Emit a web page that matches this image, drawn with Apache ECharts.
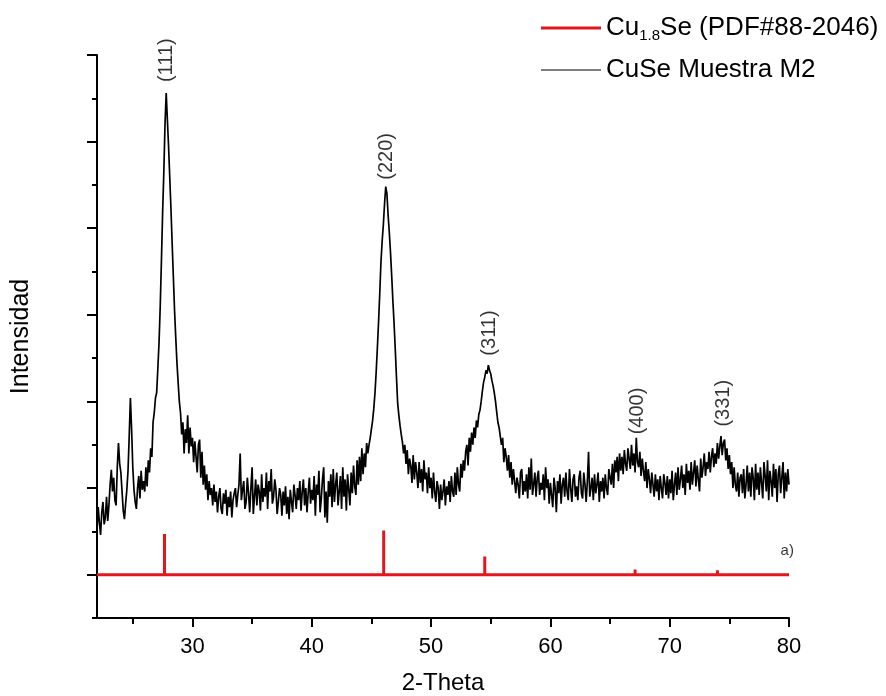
<!DOCTYPE html>
<html><head><meta charset="utf-8">
<script src="https://cdn.jsdelivr.net/npm/echarts@6/dist/echarts.min.js"></script>
<style>html,body{margin:0;padding:0;background:#fff}#c{width:886px;height:696px}</style>
</head><body><div id="c"></div>
<script>
// sampling grid of the diffractogram (2-theta, degrees)
const thetaStart = 22.0;
const thetaStep = 0.1;
// measured intensity (arbitrary units), CuSe Muestra M2 — one row per 2 degrees
const intensity = [
  52, 78, 60, 46, 72, 84, 58, 66, 90, 62,  80,104,121, 96,112, 86, 80,124,152,128,  // 22
 118, 96, 74, 64, 82, 98,120,160,204,168, 124, 98, 84, 76,100,114, 88,120, 98,108,  // 24
  96,124,102,132,118,146,136,176,187,204, 210,238,268,310,362,418,464,520,556,525,  // 26
 494,458,422,382,344,305,274,245,222,200, 187,162,176,140,168,152,184,140,170,148,  // 28
 158,130,154,136,118,150,156,112,142,104, 126, 98,116, 86,108, 92,100, 80,104, 84,  // 30
  96, 72, 90,100, 76, 70, 94, 82, 98, 68,  90, 78, 96, 66, 86, 94,100, 78, 92,104,  // 32
 140, 86, 98,108, 76, 84,112, 94, 72,100, 124, 70, 90,110, 80,104, 96, 74,116, 84,  // 34
 100, 90,118, 76,108, 96,122, 82, 90,110,  98, 70, 84,100, 92, 68, 96, 80,102, 70,  // 36
  90, 64, 98, 84, 72,104, 92, 76,100, 86, 108, 74, 96,110, 80,100, 72, 94,112, 82,  // 38
  98, 86,114, 68,104, 92,120, 72, 88,110, 124, 66, 96, 60,108, 90,116, 78,122, 84,  // 40
 104,118, 80, 96,114, 76,124, 90,110, 74, 116, 98, 80,118, 94,126,102, 92,132,104,  // 42
 136,108,146,116,140,124,152,140,150,158, 168,178,192,210,234,262,292,325,361,385,  // 44
 404,428,448,440,415,395,372,345,316,290, 260,228,198,184,172,162,153,140,150,128,  // 46
 144,116,134,126,106,138,110,130,118,100, 130,106,122, 96,132,110,118, 94,124,100,  // 48
 112, 88,118, 96, 84,108,100, 76,104, 86,  96,110, 80,102, 92,108, 84,114, 96, 90,  // 50
 118, 92,124,104, 96,128,112,132,120,142, 150,126,158,142,164,150,170,158,178,170,  // 52
 185,190,200,212,222,228,236,232,242,236, 232,224,218,210,200,188,176,170,160,150,  // 54
 158,130,146,136,120,138,112,130,104,122, 120, 94,112,104, 88,118,122, 92,108, 96,  // 56
 116, 88,124, 98,134, 92,104,118, 90,112, 120, 92,106, 98,116, 86,124,100,110, 82,  // 58
 106, 92, 78,112,100, 72,108, 94,116, 82, 104,112, 90,118, 96, 86,122,100, 84,110,  // 60
 116, 90,102, 86,112,120, 94, 88,118,104,  84,108,142, 90,100,112, 86,116, 94,104,  // 62
 118, 84,108, 96,112, 88,116,100, 92,122, 112,104,128,100,132,118,136,108,140,120,  // 64
 136,116,144,128,120,146,134,122,150,126, 140,118,158,130,124,142,114,134,120,108,  // 66
 130,100,122,110, 94,118,104, 90,116, 96, 110, 86,114,100, 88,116,106, 92,114, 88,  // 68
 110, 94,120, 86,104,118, 92,124, 98,110, 126,100,116, 92,128,106,120, 98,130,104,  // 70
 118,132,102,126,110, 96,134,112,124,140, 114,130,122,142,118,136,146,124,140,128,  // 72
 152,134,148,160,138,152,156,132,146,122, 138,116,130,100,124,104, 96,118, 90,112,  // 74
 116, 94,122, 88,104,126, 96,118, 90,124, 112, 86,128, 98,118, 92,124,106, 88,130,  // 76
 114, 96,132, 86,120,108, 90,128,100,122,  84,116,126, 94,112,130, 88,118, 96,122,  // 78
 104                                                                                 // 80
];
// reference pattern Cu1.8Se (PDF#88-2046)
const refPos = [27.66, 46.03, 54.5, 67.1, 74.0];
const refHeight = [47, 51, 21, 6, 5];
// Miller index annotations
const peakNames = ['(111)', '(220)', '(311)', '(400)', '(331)'];
const peakPos = [27.82, 46.28, 54.92, 67.34, 74.55];
const peakLabelY = [594, 483, 279, 189, 198];
// axes
const xMin = 22, xMax = 80;
const yMin = -50, yMax = 600;
const xMajorTicks = [30, 40, 50, 60, 70, 80];
const xMinorTicks = [25, 35, 45, 55, 65, 75];
const yMajorTicks = [0, 100, 200, 300, 400, 500, 600];
const yMinorTicks = [-50, 50, 150, 250, 350, 450, 550];

const sampleData = intensity.map((v, i) => [+(thetaStart + i * thetaStep).toFixed(1), v]);
const refData = [[xMin, 0]];
refPos.forEach((p, i) => { refData.push([p, 0], [p, refHeight[i]], [p, 0]); });
refData.push([xMax, 0]);
const labelData = peakPos.map((p, i) => ({ value: [p, peakLabelY[i]], name: peakNames[i] }));

const RED = '#e3161e';
const FONT = "'Liberation Sans', Arial, sans-serif";
const NARROW = "'Liberation Sans Narrow', 'Liberation Sans', Arial, sans-serif";

const chart = echarts.init(document.getElementById('c'), null, { renderer: 'canvas' });
chart.setOption({
  animation: false,
  backgroundColor: '#fff',
  grid: { left: 97, right: 97, top: 55, bottom: 78, containLabel: false, outerBoundsMode: 'none' },
  legend: {
    orient: 'vertical', left: 541, top: 13, padding: 0,
    itemWidth: 60, itemHeight: 20, itemGap: 12,
    data: [
      { name: 'Cu1.8Se (PDF#88-2046)', icon: 'path://M0,0H60V3H0Z' },
      { name: 'CuSe Muestra M2', icon: 'path://M0,0H60V1.2H0Z' }
    ],
    formatter: function (name) {
      if (name.indexOf('Cu1.8Se') === 0) return '{n|Cu}{s|1.8}{n|Se (PDF#88-2046)}';
      return '{n|' + name + '}';
    },
    textStyle: {
      color: '#000', fontFamily: FONT, fontSize: 26, lineHeight: 30,
      rich: {
        n: { fontSize: 26, lineHeight: 30, fontFamily: FONT, color: '#000' },
        s: { fontSize: 15, lineHeight: 15, verticalAlign: 'bottom', fontFamily: FONT, color: '#000' }
      }
    }
  },
  xAxis: [{
    type: 'value', min: xMin, max: xMax, position: 'bottom',
    name: '2-Theta', nameLocation: 'middle', nameGap: 53,
    nameTextStyle: { fontSize: 24, fontFamily: FONT, color: '#000' },
    axisLine: { show: true, onZero: false, lineStyle: { color: '#000', width: 2 } },
    axisTick: { show: true, length: 9, customValues: xMajorTicks, lineStyle: { color: '#000', width: 2 } },
    axisLabel: { show: true, customValues: xMajorTicks, margin: 18, fontSize: 22, fontFamily: NARROW, color: '#000' },
    splitLine: { show: false }
  }, {
    type: 'value', min: xMin, max: xMax, position: 'bottom',
    axisLine: { show: false, onZero: false },
    axisTick: { show: true, length: 6, customValues: xMinorTicks, lineStyle: { color: '#000', width: 2 } },
    axisLabel: { show: false },
    splitLine: { show: false }
  }],
  yAxis: [{
    type: 'value', min: yMin, max: yMax, position: 'left',
    name: 'Intensidad', nameLocation: 'middle', nameGap: 63, nameRotate: 90,
    nameTextStyle: { fontSize: 25, fontFamily: FONT, color: '#000' },
    axisLine: { show: true, onZero: false, lineStyle: { color: '#000', width: 2 } },
    axisTick: { show: true, length: 10, customValues: yMajorTicks, lineStyle: { color: '#000', width: 2 } },
    axisLabel: { show: false },
    splitLine: { show: false }
  }, {
    type: 'value', min: yMin, max: yMax, position: 'left',
    axisLine: { show: false, onZero: false },
    axisTick: { show: true, length: 5, customValues: yMinorTicks, lineStyle: { color: '#000', width: 2 } },
    axisLabel: { show: false },
    splitLine: { show: false }
  }],
  series: [{
    name: 'Cu1.8Se (PDF#88-2046)', type: 'line', data: refData,
    xAxisIndex: 0, yAxisIndex: 0,
    symbol: 'none', lineStyle: { color: RED, width: 3 }, itemStyle: { color: RED },
    z: 3, silent: true
  }, {
    name: 'CuSe Muestra M2', type: 'line', data: sampleData,
    xAxisIndex: 0, yAxisIndex: 0,
    symbol: 'none', lineStyle: { color: '#000', width: 1.7 }, itemStyle: { color: '#000' },
    z: 2, silent: true
  }, {
    type: 'scatter', data: labelData, xAxisIndex: 0, yAxisIndex: 0,
    symbolSize: 0, itemStyle: { color: 'transparent' }, silent: true,
    label: {
      show: true, position: 'inside', rotate: 90, formatter: '{b}',
      fontSize: 20, fontFamily: FONT, color: '#000'
    }
  }, {
    type: 'scatter', data: [{ value: [79.85, 27], name: 'a)' }], xAxisIndex: 0, yAxisIndex: 0,
    symbolSize: 0, itemStyle: { color: 'transparent' }, silent: true,
    label: { show: true, position: 'inside', formatter: '{b}', fontSize: 15, fontFamily: FONT, color: '#000' }
  }]
});
</script>
</body></html>
